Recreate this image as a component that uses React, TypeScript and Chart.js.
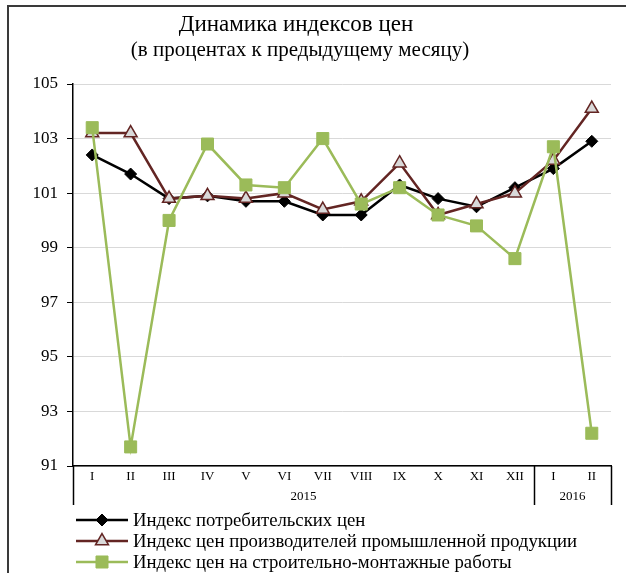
import React, { useEffect, useRef } from 'react';
import { Chart, registerables } from 'chart.js';

Chart.register(...registerables);

const TITLE = 'Динамика индексов цен';
const SUBTITLE = '(в процентах к предыдущему месяцу)';

const months = ['I', 'II', 'III', 'IV', 'V', 'VI', 'VII', 'VIII', 'IX', 'X', 'XI', 'XII', 'I', 'II'];
const yearLabels = ['2015', '2016'];
const yearSpans = [12, 2];

const seriesNames = [
  'Индекс потребительских цен',
  'Индекс цен производителей промышленной продукции',
  'Индекс цен на строительно-монтажные работы',
];
const cpi = [102.4, 101.7, 100.8, 100.9, 100.7, 100.7, 100.2, 100.2, 101.3, 100.8, 100.5, 101.2, 101.9, 102.9];
const ppi = [103.2, 103.2, 100.8, 100.9, 100.8, 101.0, 100.4, 100.7, 102.1, 100.2, 100.6, 101.0, 102.2, 104.1];
const construction = [103.4, 91.7, 100.0, 102.8, 101.3, 101.2, 103.0, 100.6, 101.2, 100.2, 99.8, 98.6, 102.7, 92.2];

const Y_MIN = 91;
const Y_MAX = 105;
const Y_STEP = 2;

const FONT = '"Liberation Serif", "Times New Roman", serif';
const W = 626;
const H = 573;

const decorPlugin = {
  id: 'decor',
  afterDraw(chart: any) {
    const ctx = chart.ctx as CanvasRenderingContext2D;
    const xs = chart.scales.x;
    const area = chart.chartArea;
    ctx.save();

    // outer frame (partially visible)
    ctx.strokeStyle = '#3a3a3a';
    ctx.lineWidth = 2;
    ctx.beginPath();
    ctx.moveTo(8, H);
    ctx.lineTo(8, 6);
    ctx.lineTo(W, 6);
    ctx.stroke();

    // titles
    ctx.fillStyle = '#000';
    ctx.textAlign = 'center';
    ctx.textBaseline = 'middle';
    ctx.font = `23px ${FONT}`;
    ctx.fillText(TITLE, 296, 25);
    ctx.font = `21px ${FONT}`;
    ctx.fillText(SUBTITLE, 300, 50);

    // year groups & separators
    const step = xs.getPixelForValue(1) - xs.getPixelForValue(0);
    const half = step / 2;
    ctx.strokeStyle = '#000';
    ctx.lineWidth = 1.5;
    let idx = 0;
    const bounds: number[] = [xs.getPixelForValue(0) - half];
    yearSpans.forEach((span, i) => {
      const left = xs.getPixelForValue(idx) - half;
      const right = xs.getPixelForValue(idx + span - 1) + half;
      bounds.push(right);
      ctx.font = `13px ${FONT}`;
      ctx.fillStyle = '#000';
      ctx.fillText(yearLabels[i], (left + right) / 2, 497);
      idx += span;
    });
    bounds.forEach((bx) => {
      ctx.beginPath();
      ctx.moveTo(Math.round(bx) + 0.5, area.bottom);
      ctx.lineTo(Math.round(bx) + 0.5, 505);
      ctx.stroke();
    });

    // legend
    const rows = [520, 541, 562];
    chart.data.datasets.forEach((ds: any, i: number) => {
      const y = rows[i];
      ctx.strokeStyle = ds.borderColor;
      ctx.lineWidth = ds.borderWidth;
      ctx.beginPath();
      ctx.moveTo(76, y);
      ctx.lineTo(128, y);
      ctx.stroke();
      ctx.fillStyle = ds.pointBackgroundColor;
      ctx.strokeStyle = ds.pointBorderColor;
      ctx.lineWidth = ds.pointBorderWidth;
      const r = ds.pointRadius;
      ctx.beginPath();
      if (ds.pointStyle === 'rectRot') {
        ctx.moveTo(102, y - r);
        ctx.lineTo(102 + r, y);
        ctx.lineTo(102, y + r);
        ctx.lineTo(102 - r, y);
        ctx.closePath();
      } else if (ds.pointStyle === 'triangle') {
        ctx.moveTo(102, y - r);
        ctx.lineTo(102 + r * 0.866, y + r * 0.5);
        ctx.lineTo(102 - r * 0.866, y + r * 0.5);
        ctx.closePath();
      } else {
        const s = r * Math.SQRT1_2;
        ctx.rect(102 - s, y - s, 2 * s, 2 * s);
      }
      ctx.fill();
      ctx.stroke();
      ctx.fillStyle = '#000';
      ctx.textAlign = 'left';
      ctx.textBaseline = 'middle';
      ctx.font = `18.75px ${FONT}`;
      ctx.fillText(ds.label, 133, y + 1);
    });

    ctx.restore();
  },
};

export default function App() {
  const ref = useRef<HTMLCanvasElement | null>(null);

  useEffect(() => {
    if (!ref.current) return;
    const chart = new Chart(ref.current, {
      type: 'line',
      data: {
        labels: months,
        datasets: [
          {
            label: seriesNames[0],
            data: cpi,
            borderColor: '#000000',
            borderWidth: 2.5,
            pointStyle: 'rectRot',
            pointRadius: 6,
            pointBackgroundColor: '#000000',
            pointBorderColor: '#000000',
            pointBorderWidth: 1,
            tension: 0,
            order: 3,
          },
          {
            label: seriesNames[1],
            data: ppi,
            borderColor: '#632523',
            borderWidth: 2.5,
            pointStyle: 'triangle',
            pointRadius: 7.5,
            pointBackgroundColor: '#d9d9d9',
            pointBorderColor: '#632523',
            pointBorderWidth: 1.5,
            tension: 0,
            order: 2,
          },
          {
            label: seriesNames[2],
            data: construction,
            borderColor: '#9bbb59',
            borderWidth: 2.5,
            pointStyle: 'rect',
            pointRadius: 8.5,
            pointBackgroundColor: '#9bbb59',
            pointBorderColor: '#9bbb59',
            pointBorderWidth: 1,
            tension: 0,
            order: 1,
          },
        ],
      },
      options: {
        responsive: false,
        animation: false,
        devicePixelRatio: 1,
        layout: { padding: { top: 84, right: 15, bottom: 0, left: 0 } },
        plugins: {
          legend: { display: false },
          title: { display: false },
          tooltip: { enabled: false },
        },
        scales: {
          x: {
            type: 'category',
            offset: true,
            afterFit: (s: any) => {
              s.height = H - 466;
            },
            grid: { display: false, drawTicks: false },
            border: { display: true, color: '#000', width: 1.5 },
            ticks: {
              autoSkip: false,
              maxRotation: 0,
              padding: 3,
              color: '#000',
              font: { family: FONT, size: 13 },
            },
          },
          y: {
            min: Y_MIN,
            max: Y_MAX,
            afterFit: (s: any) => {
              s.width = 73;
            },
            grid: { color: '#d9d9d9', lineWidth: 1, tickLength: 6, tickColor: '#000' },
            border: { display: true, color: '#000', width: 1.5 },
            ticks: {
              stepSize: Y_STEP,
              padding: 9,
              color: '#000',
              font: { family: FONT, size: 17 },
            },
          },
        },
      },
      plugins: [decorPlugin],
    });
    return () => chart.destroy();
  }, []);

  return (
    <div style={{ position: 'absolute', left: 0, top: 0, width: W, height: H }}>
      <canvas ref={ref} width={W} height={H} style={{ display: 'block' }} />
    </div>
  );
}
